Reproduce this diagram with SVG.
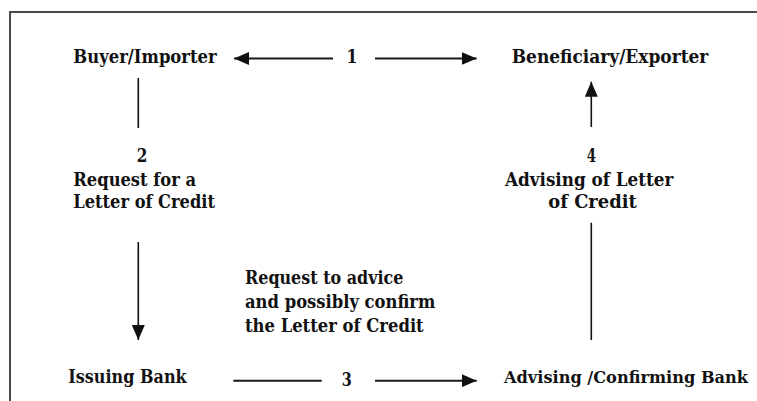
<svg xmlns="http://www.w3.org/2000/svg" width="757" height="401" viewBox="0 0 757 401">
  <style>
    text { font-family: "DejaVu Serif", "Liberation Serif", serif; font-weight: bold; font-size: 18px; fill: #111; }
    .ln { stroke: #1a1a1a; stroke-width: 2; fill: none; }
    .vl { stroke: #111; stroke-width: 1.6; fill: none; }
  </style>
  <defs>
    <marker id="ah" markerUnits="userSpaceOnUse" markerWidth="16" markerHeight="13" refX="15" refY="6.5" orient="auto">
      <path d="M0,0 L15,6.5 L0,13 z" fill="#111"/>
    </marker>
  </defs>
  <rect width="757" height="401" fill="#fff"/>
  <path d="M10,402 V12 H758" fill="none" stroke="#4a4a4a" stroke-width="2"/>

  <g id="buyer"><text x="73.3" y="63" textLength="143.4" lengthAdjust="spacingAndGlyphs">Buyer/Importer</text></g>
  <g id="beneficiary"><text x="511.7" y="63" textLength="196.6" lengthAdjust="spacingAndGlyphs">Beneficiary/Exporter</text></g>
  <g id="issuing"><text x="68.3" y="383" textLength="118.4" lengthAdjust="spacingAndGlyphs">Issuing Bank</text></g>
  <g id="advising"><text x="748" y="383" text-anchor="end" style="font-size:17px" textLength="244" lengthAdjust="spacingAndGlyphs">Advising /Confirming Bank</text></g>

  <g id="connectors">
    <line class="ln" x1="333" y1="58.5" x2="234" y2="58.5" marker-end="url(#ah)"/>
    <line class="ln" x1="375" y1="58.5" x2="476.7" y2="58.5" marker-end="url(#ah)"/>
    <line class="vl" x1="138.3" y1="78" x2="138.3" y2="128"/>
    <line class="vl" x1="138.3" y1="242" x2="138.3" y2="340" marker-end="url(#ah)"/>
    <line class="ln" x1="233.3" y1="380.7" x2="321.7" y2="380.7"/>
    <line class="ln" x1="375" y1="380.7" x2="476.7" y2="380.7" marker-end="url(#ah)"/>
    <line class="vl" x1="591.3" y1="127" x2="591.3" y2="81.7" marker-end="url(#ah)"/>
    <line class="vl" x1="591.3" y1="222.7" x2="591.3" y2="340"/>
  </g>

  <g id="labels">
    <text x="346.5" y="63" textLength="11" lengthAdjust="spacingAndGlyphs">1</text>
    <text x="136.7" y="162" textLength="10.6" lengthAdjust="spacingAndGlyphs">2</text>
    <text x="73.3" y="186" textLength="122.7" lengthAdjust="spacingAndGlyphs">Request for a</text>
    <text x="73.3" y="208" textLength="141.7" lengthAdjust="spacingAndGlyphs">Letter of Credit</text>
    <text x="341.7" y="386" textLength="10" lengthAdjust="spacingAndGlyphs">3</text>
    <text x="586.7" y="162" textLength="9.3" lengthAdjust="spacingAndGlyphs">4</text>
    <text x="505" y="186" textLength="168.3" lengthAdjust="spacingAndGlyphs">Advising of Letter</text>
    <text x="548.3" y="208" textLength="88.4" lengthAdjust="spacingAndGlyphs">of Credit</text>
    <text x="245" y="284" textLength="158.3" lengthAdjust="spacingAndGlyphs">Request to advice</text>
    <text x="245" y="308" textLength="190.3" lengthAdjust="spacingAndGlyphs">and possibly confirm</text>
    <text x="245" y="332" textLength="178.7" lengthAdjust="spacingAndGlyphs">the Letter of Credit</text>
  </g>
</svg>
